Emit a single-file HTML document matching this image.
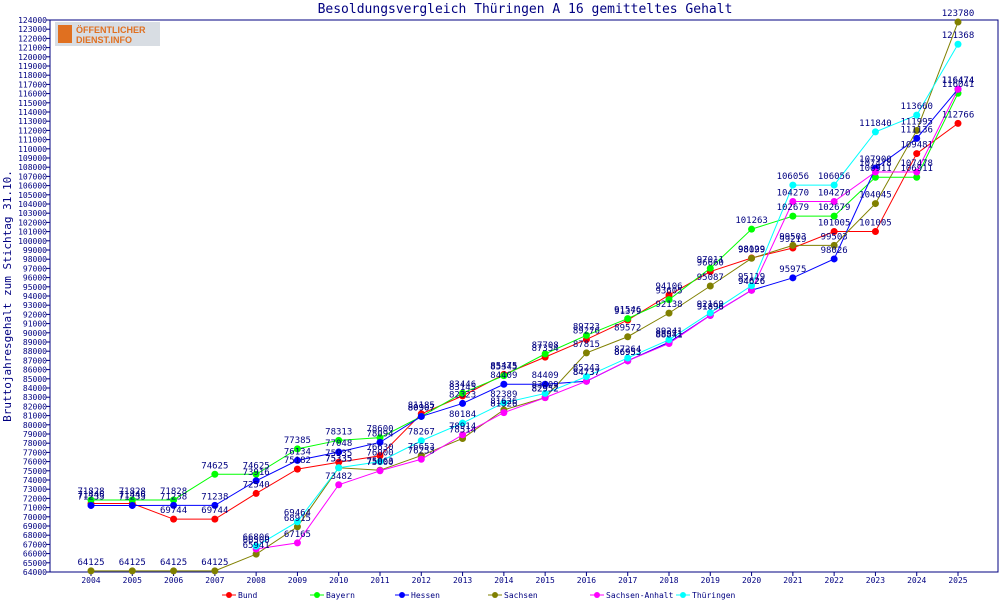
<!DOCTYPE html>
<html><head><meta charset="utf-8">
<style>
body{margin:0;background:#fff;width:1000px;height:600px;overflow:hidden}
svg{display:block;font-family:"DejaVu Sans Mono","Liberation Mono",monospace}
</style></head><body>
<svg id="chart" width="1000" height="600">
<text x="525" y="13" text-anchor="middle" font-size="13" fill="#000080">Besoldungsvergleich Thüringen A 16 gemitteltes Gehalt</text>
<g>
<rect x="55" y="22" width="105" height="24" fill="#d8dde3"/>
<rect x="58" y="25" width="14" height="18" fill="#e07020"/>
<text x="76" y="33" font-size="9" font-weight="bold" fill="#e07020" font-family="Liberation Sans,sans-serif">ÖFFENTLICHER</text>
<text x="76" y="43" font-size="9" font-weight="bold" fill="#e07020" font-family="Liberation Sans,sans-serif">DIENST.INFO</text>
</g>
<text transform="translate(11,296) rotate(-90)" text-anchor="middle" font-size="11" fill="#000080">Bruttojahresgehalt zum Stichtag 31.10.</text>
<g id="axes"></g><g id="series"></g><g id="legend"></g>
</svg>
<script>
const years=[2004,2005,2006,2007,2008,2009,2010,2011,2012,2013,2014,2015,2016,2017,2018,2019,2020,2021,2022,2023,2024,2025];
const seriesNames=["Bund","Bayern","Hessen","Sachsen","Sachsen-Anhalt","Thüringen"];
const seriesColors=["#ff0000","#00ff00","#0000ff","#808000","#ff00ff","#00ffff"];
const bund=[71446,71446,69744,69744,72540,75182,75935,76630,81185,83145,85475,87354,89276,91379,94106,96660,98129,99219,101005,101005,109481,112766];
const bayern=[71828,71828,71828,74625,74625,77385,78313,78600,80907,83446,85345,87708,89723,91546,93605,97011,101263,102679,102679,106911,106911,116041];
const hessen=[71233,71233,71238,71238,73916,76134,77048,78094,80907,82323,84409,84409,84737,86953,88971,91896,94626,95975,98026,107900,111136,116474];
const sachsen=[64125,64125,64125,64125,65941,68915,75335,75063,76653,78514,81626,82952,87815,89572,92138,95087,98099,99503,99503,104045,111995,123780];
const sachsenAnhalt=[null,null,null,null,66500,67165,73482,75000,76253,78914,81326,82952,84737,86953,88841,91896,94626,104270,104270,107478,107478,116474];
const thueringen=[null,null,null,null,66806,69464,75335,76000,78267,80184,82389,83409,85243,87264,89241,92169,95119,106056,106056,111840,113660,121368];
const allSeries=[bund,bayern,hessen,sachsen,sachsenAnhalt,thueringen];
const yMin=64000,yMax=124000;
const X0=50,X1=998,Y0=20,Y1=572;
function xs(i){return 91+i*(958-91)/(years.length-1);}
function ys(v){return Y1-(v-yMin)/(yMax-yMin)*(Y1-Y0);}
const NS="http://www.w3.org/2000/svg";
function mk(tag,attrs,parent){const e=document.createElementNS(NS,tag);for(const k in attrs)e.setAttribute(k,attrs[k]);parent.appendChild(e);return e;}
const ax=document.getElementById('axes');
const frame=mk('rect',{x:X0,y:Y0,width:X1-X0,height:Y1-Y0,fill:'none',stroke:'#000080','stroke-width':1},ax);


for(let v=yMin;v<=yMax;v+=1000){
  const y=ys(v);
  mk('line',{x1:X0-4,x2:X0,y1:y,y2:y,stroke:'#000080'},ax);
  const t=mk('text',{x:X0-3,y:y+3,'text-anchor':'end','font-size':8,fill:'#000080'},ax);
  t.textContent=v;
  
  
}
years.forEach((yr,i)=>{
  const x=xs(i);
  mk('line',{x1:x,x2:x,y1:Y1,y2:Y1+4,stroke:'#000080'},ax);
  const t=mk('text',{x:x,y:Y1+11,'text-anchor':'middle','font-size':8,fill:'#000080'},ax);
  t.textContent=yr;
  
  
});
const sg=document.getElementById('series');
const lbl=[];
allSeries.forEach((data,s)=>{
  const g=mk('g',{},sg);
  
  
  let d='';
  data.forEach((v,i)=>{if(v==null)return;d+=(d?'L':'M')+xs(i)+','+ys(v);});
  mk('path',{d:d,fill:'none',stroke:seriesColors[s],'stroke-width':1},g);
  data.forEach((v,i)=>{
    if(v==null)return;
    const c=mk('circle',{cx:xs(i),cy:ys(v),r:3.5,fill:seriesColors[s]},g);
    
    
    lbl.push([xs(i),ys(v),v]);
  });
});
lbl.forEach(p=>{
  const t=mk('text',{x:p[0],y:p[1]-6,'text-anchor':'middle','font-size':9,fill:'#000080'},sg);
  t.textContent=p[2];
  
  
});
const lg=document.getElementById('legend');
const legX=[222,310,395,488,590,676];
seriesNames.forEach((n,s)=>{
  const g=mk('g',{},lg);
  
  
  const x=legX[s];
  mk('line',{x1:x,x2:x+14,y1:595,y2:595,stroke:seriesColors[s]},g);
  mk('circle',{cx:x+7,cy:595,r:3,fill:seriesColors[s]},g);
  const t=mk('text',{x:x+16,y:598,'font-size':8,fill:'#000080'},g);
  t.textContent=n;
});
</script>
</body></html>
